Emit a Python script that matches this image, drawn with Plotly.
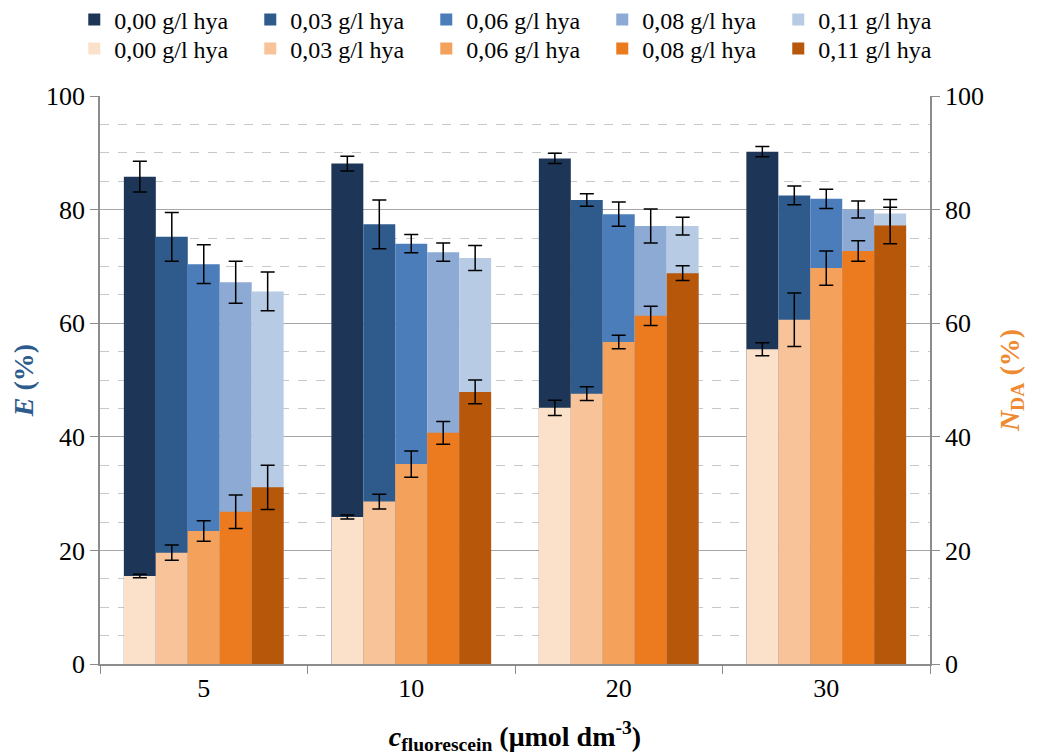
import plotly.graph_objects as go

categories = ["5", "10", "20", "30"]
series_names = ["0,00 g/l hya", "0,03 g/l hya", "0,06 g/l hya", "0,08 g/l hya", "0,11 g/l hya"]

# E (%) - blue series (left axis)
e_000 = [85.8, 88.1, 89.0, 90.2]
e_003 = [75.2, 77.4, 81.7, 82.5]
e_006 = [70.4, 74.0, 79.2, 81.9]
e_008 = [67.2, 72.5, 77.1, 80.0]
e_011 = [65.6, 71.5, 77.1, 79.3]
e_err_000 = [2.7, 1.3, 0.9, 0.9]
e_err_003 = [4.3, 4.3, 1.1, 1.65]
e_err_006 = [3.4, 1.6, 2.15, 1.7]
e_err_008 = [3.7, 1.6, 3.0, 1.5]
e_err_011 = [3.4, 2.2, 1.55, 2.5]

# N_DA (%) - orange series (right axis)
n_000 = [15.5, 25.9, 45.1, 55.4]
n_003 = [19.6, 28.6, 47.6, 60.6]
n_006 = [23.4, 35.2, 56.7, 69.7]
n_008 = [26.8, 40.7, 61.3, 72.7]
n_011 = [31.1, 47.9, 68.8, 77.2]
n_err_000 = [0.3, 0.35, 1.35, 1.15]
n_err_003 = [1.35, 1.3, 1.2, 4.7]
n_err_006 = [1.8, 2.3, 1.2, 3.0]
n_err_008 = [2.95, 2.0, 1.7, 1.8]
n_err_011 = [3.9, 2.1, 1.3, 3.2]

blue_colors = ["#1d3657", "#2f5a8c", "#4a7dba", "#8caad3", "#b7cbe5"]
orange_colors = ["#fbe1ca", "#f8c398", "#f4a15c", "#ec7b20", "#b75709"]

e_series = [e_000, e_003, e_006, e_008, e_011]
e_errs = [e_err_000, e_err_003, e_err_006, e_err_008, e_err_011]
n_series = [n_000, n_003, n_006, n_008, n_011]
n_errs = [n_err_000, n_err_003, n_err_006, n_err_008, n_err_011]

FONT = "Liberation Serif, Times New Roman, serif"

fig = go.Figure()
for i, (vals, errs) in enumerate(zip(e_series, e_errs)):
    fig.add_trace(go.Bar(
        x=categories, y=vals, name=series_names[i], legend="legend",
        marker=dict(color=blue_colors[i], line=dict(width=0)),
        error_y=dict(type="data", array=errs, color="black", thickness=1.5, width=7),
        offsetgroup=str(i), alignmentgroup="g", yaxis="y",
    ))
for i, (vals, errs) in enumerate(zip(n_series, n_errs)):
    fig.add_trace(go.Bar(
        x=categories, y=vals, name=series_names[i], legend="legend2",
        marker=dict(color=orange_colors[i], line=dict(width=0)),
        error_y=dict(type="data", array=errs, color="black", thickness=1.5, width=7),
        offsetgroup=str(i), alignmentgroup="g", yaxis="y2",
    ))

axis_line = "#8c8c8c"
legend_common = dict(
    orientation="h", xref="paper", yref="paper",
    x=-0.031, xanchor="left", yanchor="middle",
    entrywidth=131, entrywidthmode="pixels", itemwidth=30,
    traceorder="normal", font=dict(family=FONT, size=24, color="black"),
    tracegroupgap=0, bgcolor="rgba(0,0,0,0)",
)
fig.update_layout(
    width=1041, height=756,
    margin=dict(l=92, r=119, t=88, b=100, autoexpand=False),
    paper_bgcolor="white", plot_bgcolor="white",
    barmode="group", bargap=0.23, bargroupgap=0,
    font=dict(family=FONT, size=26, color="black"),
    showlegend=True,
    legend=dict(legend_common, y=1.134),
    legend2=dict(legend_common, y=1.083),
    xaxis=dict(
        type="category", tickson="boundaries", ticks="outside", ticklen=8,
        tickcolor=axis_line, showline=True, linecolor=axis_line, linewidth=1.5,
        showgrid=False, tickfont=dict(family=FONT, size=26),
        title=dict(text="<b><i>c</i><sub>fluorescein</sub> (μmol dm<sup>-3</sup>)</b>",
                   font=dict(family=FONT, size=28), standoff=24),
    ),
    yaxis=dict(
        range=[0, 100], dtick=20, tick0=0, ticks="outside", ticklen=8,
        tickcolor=axis_line, showline=True, linecolor=axis_line, linewidth=1.5,
        showgrid=True, gridcolor="#a6a6a6", gridwidth=1, zeroline=False,
        minor=dict(dtick=5, showgrid=True, gridcolor="#c8c8c8", griddash="dash", gridwidth=1),
        tickfont=dict(family=FONT, size=26),
        title=dict(text="<b><i>E</i> (%)</b>", font=dict(family=FONT, size=28, color="#2e5b8e"),
                   standoff=8),
    ),
    yaxis2=dict(
        range=[0, 100], dtick=20, tick0=0, overlaying="y", side="right",
        ticks="outside", ticklen=8, tickcolor=axis_line, showline=True,
        linecolor=axis_line, linewidth=1.5, showgrid=False, zeroline=False,
        tickfont=dict(family=FONT, size=26),
        title=dict(text="<b><i>N</i><sub>DA</sub> (%)</b>",
                   font=dict(family=FONT, size=28, color="#ee8a32"), standoff=16),
    ),
)

fig.write_html("out.html")
